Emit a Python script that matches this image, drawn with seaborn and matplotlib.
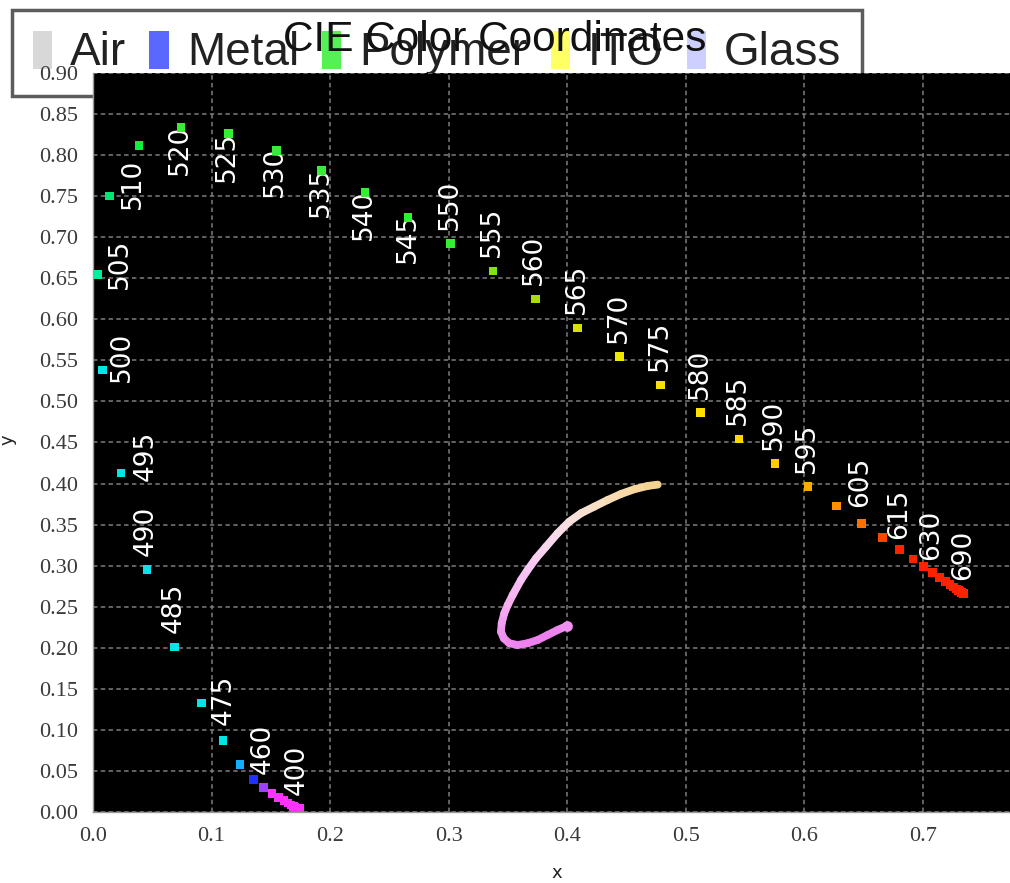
import matplotlib
matplotlib.use("Agg")
import matplotlib.pyplot as plt
import seaborn as sns
import pandas as pd
from matplotlib.collections import LineCollection
from matplotlib.patches import Patch

# CIE 1931 spectral locus, 5 nm steps
wavelengths = [380, 385, 390, 395, 400, 405, 410, 415, 420, 425, 430, 435, 440, 445, 450, 455,
               460, 465, 470, 475, 480, 485, 490, 495, 500, 505, 510, 515, 520, 525, 530, 535,
               540, 545, 550, 555, 560, 565, 570, 575, 580, 585, 590, 595, 600, 605, 610, 615,
               620, 625, 630, 635, 640, 645, 650, 655, 660, 665, 670, 675, 680, 685, 690, 695, 700]
locus_x = [0.1741, 0.1740, 0.1738, 0.1736, 0.1733, 0.1730, 0.1726, 0.1721, 0.1714, 0.1703,
           0.1689, 0.1669, 0.1644, 0.1611, 0.1566, 0.1510, 0.1440, 0.1355, 0.1241, 0.1096,
           0.0913, 0.0687, 0.0454, 0.0235, 0.0082, 0.0039, 0.0139, 0.0389, 0.0743, 0.1142,
           0.1547, 0.1929, 0.2296, 0.2658, 0.3016, 0.3373, 0.3731, 0.4087, 0.4441, 0.4788,
           0.5125, 0.5448, 0.5752, 0.6029, 0.6270, 0.6482, 0.6658, 0.6801, 0.6915, 0.7006,
           0.7079, 0.7140, 0.7190, 0.7230, 0.7260, 0.7283, 0.7300, 0.7311, 0.7320, 0.7327,
           0.7334, 0.7340, 0.7344, 0.7346, 0.7347]
locus_y = [0.0050, 0.0050, 0.0049, 0.0049, 0.0048, 0.0048, 0.0048, 0.0048, 0.0051, 0.0058,
           0.0069, 0.0086, 0.0109, 0.0138, 0.0177, 0.0227, 0.0297, 0.0399, 0.0578, 0.0868,
           0.1327, 0.2007, 0.2950, 0.4127, 0.5384, 0.6548, 0.7502, 0.8120, 0.8338, 0.8262,
           0.8059, 0.7816, 0.7543, 0.7243, 0.6923, 0.6589, 0.6245, 0.5896, 0.5547, 0.5202,
           0.4866, 0.4544, 0.4242, 0.3965, 0.3725, 0.3514, 0.3340, 0.3197, 0.3083, 0.2993,
           0.2920, 0.2859, 0.2809, 0.2770, 0.2740, 0.2717, 0.2700, 0.2689, 0.2680, 0.2673,
           0.2666, 0.2660, 0.2656, 0.2654, 0.2653]
locus_colors = (["#ff33ff"] * 16
                + ["#a040ff", "#2030ff", "#10b0ff"]
                + ["#00e6e6"] * 6
                + ["#00eea0", "#00e870", "#10ee40"]
                + ["#33ee33"] * 7
                + ["#7ee60a", "#aadd00", "#d8e000", "#f0e800", "#f8e000", "#ffe000",
                   "#ffd800", "#ffcc00", "#ffaa00", "#ff9000", "#ff7000", "#ff4400"]
                + ["#ff2200"] * 18)

label_wavelengths = [400, 460, 475, 485, 490, 495, 500, 505, 510, 520, 525, 530, 535, 540,
                     545, 550, 555, 560, 565, 570, 575, 580, 585, 590, 595, 605, 615, 630, 690]

# colour trajectory of the film stack
curve_x = [0.3998, 0.3919, 0.3835, 0.3751, 0.3666, 0.3582, 0.3511, 0.3464, 0.3441, 0.3447,
           0.3469, 0.3498, 0.3540, 0.3610, 0.3666, 0.3737, 0.3821, 0.3919, 0.4017, 0.4116,
           0.4228, 0.4341, 0.4453, 0.4566, 0.4679, 0.4763]
curve_y = [0.2266, 0.2217, 0.2156, 0.2095, 0.2055, 0.2034, 0.2055, 0.2116, 0.2196, 0.2298,
           0.2420, 0.2521, 0.2643, 0.2826, 0.2948, 0.3090, 0.3231, 0.3395, 0.3536, 0.3638,
           0.3719, 0.3800, 0.3873, 0.3931, 0.3971, 0.3987]
curve_colors = ["#f090f0", "#ee84ee", "#ec80ec", "#ee80ee", "#f080f0", "#f084f0", "#f088f0",
                "#f090f0", "#f098f0", "#f0a0f0", "#f4a8f0", "#f6b0f0", "#f8b8f2", "#f8c0f4",
                "#f8c8f4", "#f8d0f2", "#f8d8ee", "#f8dce6", "#f8e0dc", "#f8e0d0", "#f8e0c4",
                "#f8dcb6", "#f8daa8", "#f6d69c", "#f4d290", "#f0d080"]

x_ticks = [0.0, 0.1, 0.2, 0.3, 0.4, 0.5, 0.6, 0.7]
y_ticks = [0.00, 0.05, 0.10, 0.15, 0.20, 0.25, 0.30, 0.35, 0.40, 0.45,
           0.50, 0.55, 0.60, 0.65, 0.70, 0.75, 0.80, 0.85, 0.90]

legend_labels = ["Air", "Metal", "Polymer", "ITO", "Glass"]
legend_colors = ["#d8d8d8", "#5a68ff", "#55f055", "#ffff66", "#cdd0ff"]

title = "CIE Color Coordinates"

# per-label placement of the wavelength tags (pixels: right, down)
label_shift = {495: (25, -17), 500: (19, -13), 505: (22, -10), 510: (23, -12),
               520: (-1, 23), 525: (-1, 23), 530: (-1, 22), 535: (-1, 22), 540: (-1, 22),
               545: (0, 21), 400: (-2, -38), 475: (1, -41), 605: (-1, -42),
               615: (0, -36), 630: (-1, -37)}
default_shift = (-1, -39)

sns.set_theme(style="white")
plt.rcParams["font.family"] = ["DejaVu Sans"]

W, H = 1010, 883
fig = plt.figure(figsize=(W / 100, H / 100), dpi=100)
fig.patch.set_facecolor("white")
ax = fig.add_axes([93 / W, 1 - 812 / H, (W - 93) / W, (812 - 73) / H])
ax.set_facecolor("black")

locus = pd.DataFrame({"x": locus_x, "y": locus_y, "wl": wavelengths})
palette = dict(zip(wavelengths, locus_colors))
sns.scatterplot(data=locus, x="x", y="y", hue="wl", palette=palette, marker="s",
                s=38, linewidth=0, legend=False, ax=ax, zorder=5)

px = 72 / 100
for wl, lx, ly in zip(wavelengths, locus_x, locus_y):
    if wl not in label_wavelengths:
        continue
    dx, dy = label_shift.get(wl, default_shift)
    ax.annotate(str(wl), (lx, ly), xytext=(dx * px, -dy * px), textcoords="offset points",
                rotation=90, ha="center", va="center", color="white", fontsize=19,
                family="DejaVu Sans", zorder=4)

segs = [[(curve_x[i], curve_y[i]), (curve_x[i + 1], curve_y[i + 1])]
        for i in range(len(curve_x) - 1)]
lc = LineCollection(segs, colors=curve_colors[:-1], linewidths=5.6, capstyle="round",
                    zorder=6)
ax.add_collection(lc)
ax.scatter(curve_x[:1], curve_y[:1], s=60, color=curve_colors[0], linewidths=0, zorder=7)

ax.set_xlim(0, (W - 93) / 1185.6)
ax.set_ylim(0, 0.90)
ax.set_xticks(x_ticks)
ax.set_xticklabels([f"{v:.1f}" for v in x_ticks])
ax.set_yticks(y_ticks)
ax.set_yticklabels([f"{v:.2f}" for v in y_ticks])
ax.tick_params(length=0, labelsize=16, colors="#3a3a3a", pad=11)
for lab in ax.get_xticklabels() + ax.get_yticklabels():
    lab.set_family("Liberation Serif")
ax.grid(True, color="#7c7c7c", linestyle=(0, (2.9, 2.2)), linewidth=1.1)
ax.set_axisbelow(True)
for side, sp in ax.spines.items():
    sp.set_visible(side in ("left", "bottom"))
    sp.set_color("#9a9a9a")
    sp.set_linewidth(1.0)

ax.set_xlabel("x", fontsize=13, color="#222222")
ax.set_ylabel("y", fontsize=13, color="#222222")
ax.xaxis.set_label_coords((557 - 93) / (W - 93), -(864 - 812) / (812 - 73))
ax.yaxis.set_label_coords(-(93 - 17) / (W - 93), (812 - 440) / (812 - 73))

handles = [Patch(facecolor=c, edgecolor="none", label=l)
           for l, c in zip(legend_labels, legend_colors)]
leg = fig.legend(handles=handles, ncol=5, loc="upper left",
                 bbox_to_anchor=(12 / W, 1 - 10 / H), frameon=True, fancybox=False,
                 prop={"family": "Liberation Sans", "size": 33},
                 handlelength=0.42, handleheight=0.9, handletextpad=0.4,
                 columnspacing=0.5, borderpad=0.45, borderaxespad=0)
leg.get_frame().set_edgecolor("#333333")
leg.get_frame().set_linewidth(2.5)
for t in leg.get_texts():
    t.set_color("#222222")
leg.set_zorder(-1)

fig.text(495 / W, 1 - 40 / H, title, ha="center", va="center", fontsize=30.5,
         family="Liberation Sans", color="#111111", zorder=10)

fig.savefig("out.png", dpi=100)
